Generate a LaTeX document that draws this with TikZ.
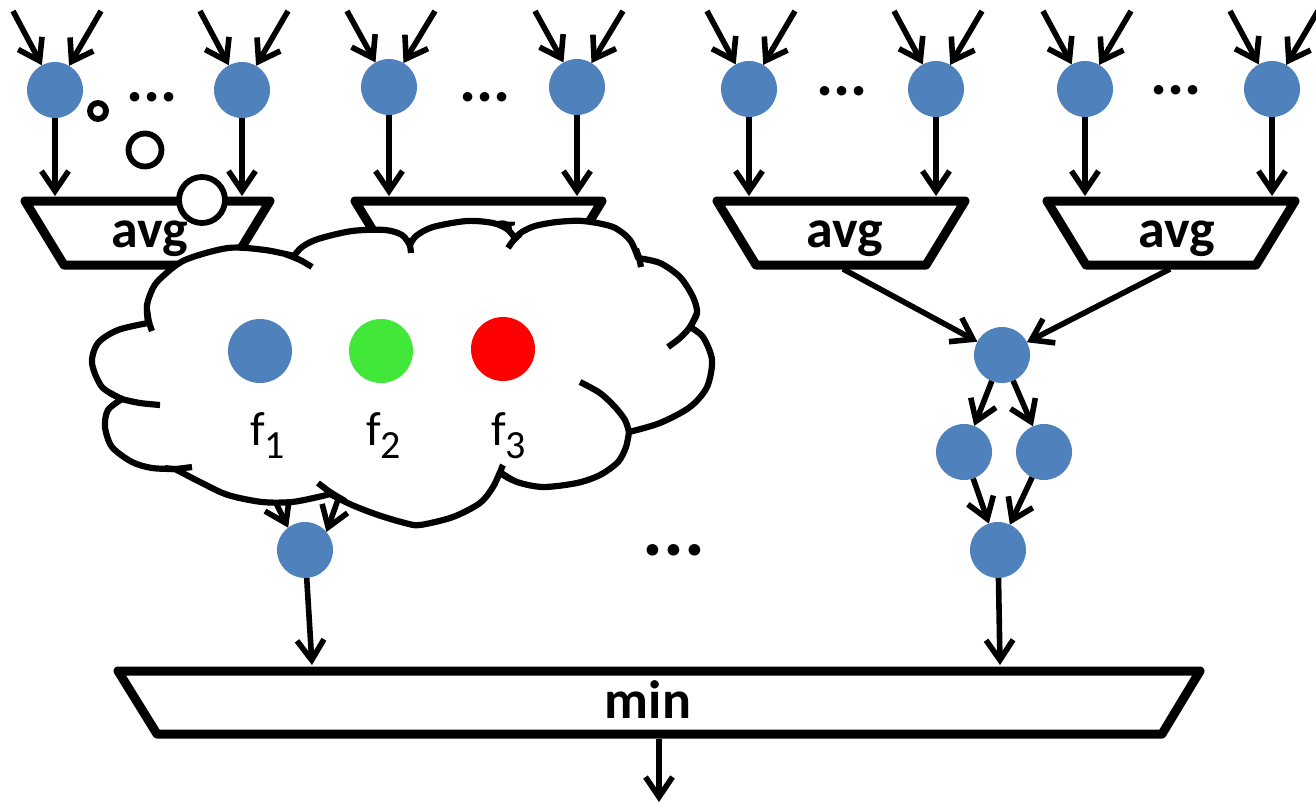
\documentclass[tikz,border=0pt]{standalone}
\usepackage{fontspec}
\setmainfont{Carlito}
\usetikzlibrary{arrows.meta}
\definecolor{unitblue}{HTML}{4F81BD}
\definecolor{featgreen}{HTML}{41E83A}
\definecolor{featred}{HTML}{FF0000}

\begin{document}
\begin{tikzpicture}[x=1pt,y=-1pt,
  unit/.style={circle,fill=unitblue,minimum size=56pt,inner sep=0pt,outer sep=0pt},
  feat/.style={circle,minimum size=64pt,inner sep=0pt,outer sep=0pt},
  arr/.style={line width=5.6pt,-{Straight Barb[length=20pt,width=27pt]}},
  gate/.style={line width=9pt,line join=round,fill=white},
  gatelabel/.style={font=\fontsize{54}{60}\selectfont\bfseries,anchor=base,inner sep=0pt},
  dotrow/.style={font=\fontsize{64}{70}\selectfont\bfseries,inner sep=0pt},
  bigdots/.style={font=\fontsize{78}{80}\selectfont\bfseries,inner sep=0pt},
  cloudline/.style={line width=6.2pt,line join=round,line cap=butt},
  bubble/.style={circle,draw,line width=5.8pt,fill=white,inner sep=0pt,outer sep=0pt},
  flabel/.style={font=\fontsize{48}{56}\selectfont,anchor=base west,inner sep=0pt}
]
\useasboundingbox (0,0) rectangle (1316,805);

% ---- averaging gates ----
\draw[gate] (25,201) -- (270,201) -- (231,265) -- (64,265) -- cycle;
\draw[gate] (355,201) -- (602,201) -- (563,265) -- (394,265) -- cycle;
\draw[gate] (717,201) -- (965,201) -- (926,265) -- (756,265) -- cycle;
\draw[gate] (1047,201) -- (1295,201) -- (1256,265) -- (1086,265) -- cycle;
\node[gatelabel] (avgA) at (150,247) {avg};
\node[gatelabel] (avgB) at (478,247) {avg};
\node[gatelabel] (avgC) at (845,247) {avg};
\node[gatelabel] (avgD) at (1177,247) {avg};

% ---- input units ----
\foreach \n/\x/\y in {a1/55/90,a2/242/90,b1/389/87,b2/577/87,c1/749/89,c2/936/89,d1/1085/89,d2/1272/89}{
  \node[unit] (\n) at (\x,\y) {};
  \coordinate (\n-l) at ({\x-42},11);
  \coordinate (\n-r) at ({\x+46},11);
  \coordinate (\n-t) at (\x,196);
  \draw[arr] (\n-l) -- (\n);
  \draw[arr] (\n-r) -- (\n);
  \draw[arr] (\n) -- (\n-t);
}
\node[dotrow] (dotsA) at (152,97) {...};
\node[dotrow] (dotsB) at (485,97) {...};
\node[dotrow] (dotsC) at (842,91) {...};
\node[dotrow] (dotsD) at (1176,90) {...};

% ---- right-hand combining diamond ----
\node[unit] (m)  at (1002,355) {};
\node[unit] (ml) at (964,452) {};
\node[unit] (mr) at (1044,452) {};
\node[unit] (mb) at (998,550) {};
\coordinate (avgC-o) at (843,269);
\coordinate (avgD-o) at (1170,269);
\draw[arr] (avgC-o) -- (m);
\draw[arr] (avgD-o) -- (m);
\draw[arr] (m) -- (ml);
\draw[arr] (m) -- (mr);
\draw[arr] (ml) -- (mb);
\draw[arr] (mr) -- (mb);

% ---- left-hand output unit (inputs run under the cloud) ----
\node[unit] (lb) at (305,550) {};
\coordinate (hl) at (245,440);
\coordinate (hr) at (361,435);
\draw[arr] (hl) -- (lb.127);
\draw[arr] (hr) -- (lb.40);

\node[bigdots] (dotsM) at (674,550) {...};

% ---- min gate ----
\draw[gate] (118,671) -- (1200,671) -- (1162,734) -- (157,734) -- cycle;
\node[gatelabel] (minG) at (648,718) {min};
\coordinate (min-l) at (312,665);
\coordinate (min-r) at (1000,665);
\coordinate (min-o) at (659,739);
\coordinate (out) at (659,802);
\draw[arr] (lb) -- (min-l);
\draw[arr] (mb) -- (min-r);
\draw[arr] (min-o) -- (out);

% ---- thought cloud ----
\filldraw[cloudline,fill=white]
  plot[smooth] coordinates {(148,323) (147,305) (153,288) (162,277) (185,260) (228,248) (265,250) (294,256)}
  -- plot[smooth] coordinates {(294,256) (302,247) (318,239) (352,231) (385,230) (402,235) (410,245)}
  -- plot[smooth] coordinates {(410,245) (416,236) (433,227) (467,221) (493,223) (507,229) (515,238)}
  -- plot[smooth] coordinates {(515,238) (522,232) (535,226) (557,222) (583,221) (613,227) (630,240) (638,258)}
  -- plot[smooth] coordinates {(638,258) (660,263) (680,277) (693,297) (697,313) (690,327)}
  -- plot[smooth] coordinates {(690,327) (703,337) (712,360) (707,387) (690,407) (660,423) (629,432)}
  -- plot[smooth] coordinates {(629,432) (626,447) (618,462) (600,475) (577,483) (543,487) (517,482) (500,472)}
  -- plot[smooth] coordinates {(500,472) (493,487) (480,503) (453,517) (420,525) (405,523) (378,515) (352,505) (330,494)}
  -- plot[smooth] coordinates {(330,494) (318,497) (292,502) (262,502) (228,495) (202,483) (175,469)}
  -- plot[smooth] coordinates {(175,469) (152,468) (132,462) (112,447) (105,427) (108,410) (122,399)}
  -- plot[smooth] coordinates {(122,399) (102,387) (92,363) (98,343) (118,330) (148,323)}
  -- cycle;
% inner ends of the puffs
\draw[cloudline] plot[smooth] coordinates {(147,310) (149,322) (152,331)};
\draw[cloudline] plot[smooth] coordinates {(285,254) (300,260) (312,267)};
\draw[cloudline] plot[smooth] coordinates {(407,239) (410,246) (411,253)};
\draw[cloudline] plot[smooth] coordinates {(520,234) (513,241) (508,248)};
\draw[cloudline] plot[smooth] coordinates {(636,249) (639,258) (641,267)};
\draw[cloudline] plot[smooth] coordinates {(697,313) (690,327) (680,338) (668,347)};
\draw[cloudline] plot[smooth] coordinates {(580,382) (600,393) (615,407) (625,420) (629,432)};
\draw[cloudline] plot[smooth] coordinates {(512,480) (501,473) (503,465)};
\draw[cloudline] plot[smooth] coordinates {(345,501) (330,492) (318,483)};
\draw[cloudline] plot[smooth] coordinates {(165,468) (175,469) (192,467)};
\draw[cloudline] plot[smooth] coordinates {(110,393) (122,399) (140,403) (160,405)};

% ---- feature units inside the cloud ----
\node[feat,fill=unitblue]  (f1) at (260,351) {};
\node[feat,fill=featgreen] (f2) at (381,351) {};
\node[feat,fill=featred]   (f3) at (503,349) {};
\node[flabel] (f1l) at (250,445) {f\raisebox{-13pt}{\fontsize{40}{44}\selectfont 1}};
\node[flabel] (f2l) at (366,445) {f\raisebox{-13pt}{\fontsize{40}{44}\selectfont 2}};
\node[flabel] (f3l) at (491,445) {f\raisebox{-13pt}{\fontsize{40}{44}\selectfont 3}};

% ---- thought bubbles ----
\node[bubble,minimum size=16pt] (s1) at (98,111) {};
\node[bubble,minimum size=33pt] (s2) at (145,150) {};
\node[bubble,minimum size=46pt] (s3) at (202,200) {};
\end{tikzpicture}
\end{document}
